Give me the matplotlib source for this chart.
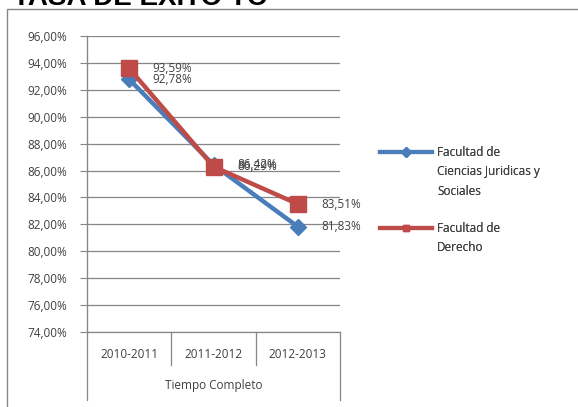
import matplotlib
matplotlib.use("Agg")
import matplotlib.pyplot as plt
from matplotlib.patches import Rectangle
from matplotlib.lines import Line2D
import matplotlib.transforms as mtransforms

plt.rcParams['font.family'] = ['Open Sans', 'DejaVu Sans']

categorias = ['2010-2011', '2011-2012', '2012-2013']
grupo = 'Tiempo Completo'
ciencias = [92.78, 86.42, 81.83]
derecho = [93.59, 86.29, 83.51]
yticks = [74, 76, 78, 80, 82, 84, 86, 88, 90, 92, 94, 96]
serie1 = ['Facultad de', 'Ciencias Juridicas y', 'Sociales']
serie2 = ['Facultad de', 'Derecho']

azul = '#4A7EBB'
rojo = '#BE4B48'
gris = '#868686'
texto = '#404040'
fs = 8.5


def pct(v):
    return '{:.2f}%'.format(v).replace('.', ',')


fig = plt.figure(figsize=(5.78, 4.07), dpi=100)

# marco del grafico y titulo (cortado arriba)
fig.patches.append(Rectangle((7 / 578, -0.05), 1.2, 1 - 9 / 407 + 0.05, transform=fig.transFigure,
                             fill=False, edgecolor=gris, linewidth=1.0))
fig.text(13 / 578, 1 - 5 / 407, 'TASA DE EXITO TC', family='Liberation Sans', fontsize=20,
         fontweight='bold', va='baseline', ha='left', color='black')

ax = fig.add_axes([87 / 578, 1 - 332 / 407, 253 / 578, 296 / 407])
x = list(range(len(categorias)))

ax.set_ylim(74, 96)
ax.set_xlim(-0.5, 2.5)
ax.set_yticks(yticks)
ax.set_yticklabels([pct(v) for v in yticks], fontsize=fs, color=texto)
ax.set_xticks([])
for s in ['top', 'right', 'bottom']:
    ax.spines[s].set_visible(False)
ax.spines['left'].set_color(gris)
ax.tick_params(axis='y', length=5, color=gris, pad=9)
ax.grid(axis='y', color=gris, linewidth=0.9)
ax.set_axisbelow(True)

# lineas de categorias por debajo del eje
tr = mtransforms.blended_transform_factory(ax.transData, ax.transAxes)
ax.plot([-0.5, 2.5], [0, 0], color=gris, lw=0.9, transform=tr, clip_on=False)
ax.plot([-0.5, -0.5], [1, -68 / 296], color=gris, lw=0.9, transform=tr, clip_on=False)
ax.plot([2.5, 2.5], [0, -68 / 296], color=gris, lw=0.9, transform=tr, clip_on=False)
for b in [0.5, 1.5]:
    ax.plot([b, b], [0, -33 / 296], color=gris, lw=0.9, transform=tr, clip_on=False)
for i, c in enumerate(categorias):
    ax.text(i, -23 / 296, c, transform=tr, ha='center', va='center', fontsize=fs, color=texto)
ax.text(1, -54 / 296, grupo, transform=tr, ha='center', va='center', fontsize=fs, color=texto)

l1, = ax.plot(x, ciencias, color=azul, lw=3.2, marker='D', markersize=8, clip_on=False)
l2, = ax.plot(x, derecho, color=rojo, lw=3.2, marker='s', markersize=11, clip_on=False)

for i in x:
    ax.annotate(pct(derecho[i]), (i, derecho[i]), xytext=(17, 0), textcoords='offset points',
                ha='left', va='center', fontsize=fs, color=texto)
    ax.annotate(pct(ciencias[i]), (i, ciencias[i]), xytext=(17, 0), textcoords='offset points',
                ha='left', va='center', fontsize=fs, color=texto)

# leyenda: la linea va junto a la primera fila del texto
vacio = Line2D([], [], linestyle='none')
for linea, nombres, top in [(l1, serie1, 146), (l2, serie2, 222)]:
    handles = [linea] + [vacio] * (len(nombres) - 1)
    lg = fig.legend(handles, nombres, loc='upper left', bbox_to_anchor=(380 / 578, 1 - top / 407),
                    frameon=False, fontsize=fs, handlelength=4.4, handletextpad=0.45, borderpad=0,
                    borderaxespad=0, labelspacing=0.55, labelcolor=texto)
    h = lg.legend_handles[0]
    h.set_markersize(5)
    h.set_linewidth(3)
    fig.add_artist(lg)

fig.savefig('out.png', dpi=100)
